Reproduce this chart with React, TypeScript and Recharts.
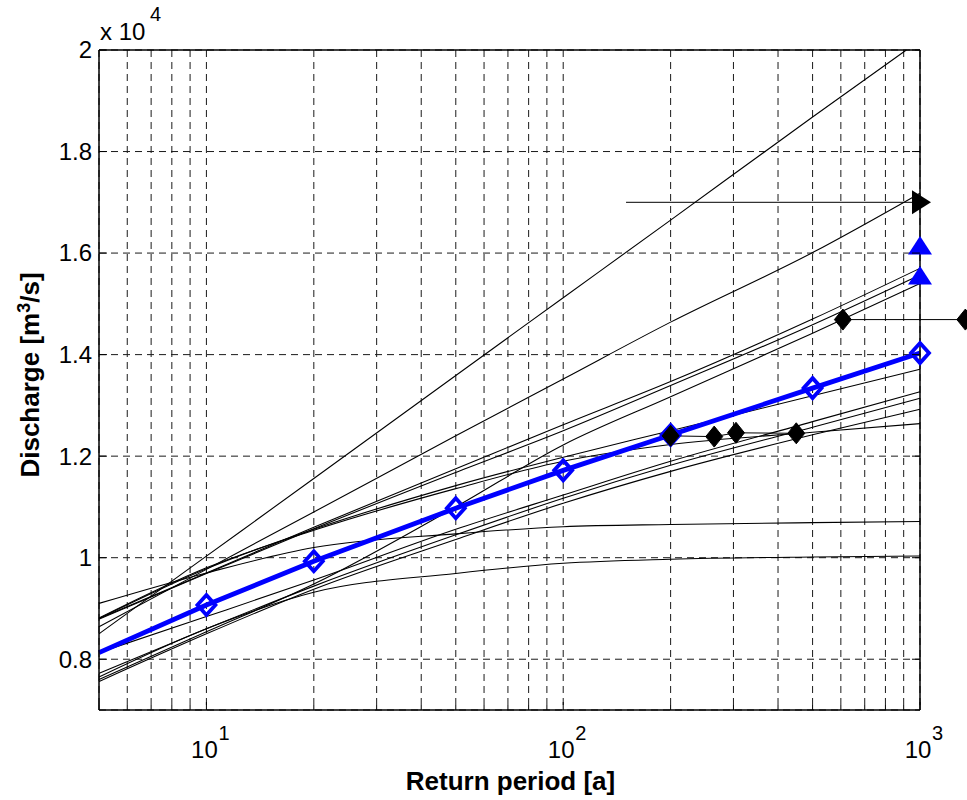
import { ComposedChart, Line, XAxis, YAxis, CartesianGrid } from 'recharts';

const WIDTH = 967;
const HEIGHT = 800;
const LEFT_W = 99;
const RIGHT_W = 47;
const TOP_H = 50;
const BOTTOM_H = 90;
const PLOT_W = WIDTH - LEFT_W - RIGHT_W;
const FONT = '"Liberation Sans", Arial, Helvetica, sans-serif';

const T = [5, 10, 20, 50, 100, 200, 500, 1000];
// the steepest fit leaves the axes at the top (2e4) before 1000 a
const T_STEEP = [5, 10, 20, 50, 100, 200, 500, 916];
const Q_STEEP = [8500, 10030, 11560, 13590, 15120, 16650, 18680, 20000];

// fitted distributions, discharge [m3/s]
const Q_FIT_B = [8640, 9770, 10900, 12400, 13520, 14640, 16010, 17180];
const Q_FIT_C1 = [8800, 9700, 10600, 11750, 12620, 13470, 14700, 15700];
const Q_FIT_C2 = [8790, 9690, 10570, 11680, 12500, 13390, 14590, 15570];
const Q_FIT_C3 = [7600, 8540, 9480, 11000, 12220, 13170, 14420, 15400];
const Q_FIT_D = [8800, 9780, 10560, 11420, 11980, 12500, 13190, 13710];
const Q_FIT_G = [8810, 9800, 10540, 11360, 11900, 12230, 12470, 12640];
const Q_FIT_E = [9100, 9700, 10200, 10470, 10610, 10655, 10690, 10713];
const Q_FIT_F = [7650, 8600, 9320, 9690, 9890, 9970, 10015, 10033];
const Q_FIT_H1 = [8130, 8840, 9560, 10560, 11235, 11900, 12680, 13270];
const Q_FIT_H2 = [7720, 8600, 9440, 10450, 11170, 11820, 12570, 13140];
const Q_FIT_H3 = [7560, 8500, 9380, 10360, 11072, 11700, 12420, 12923];

// ensemble (blue)
const Q_ENSEMBLE = [8130, 9068, 9930, 10975, 11720, 12417, 13340, 14030];

// historic estimates
const T_HIST = [200, 265, 305, 450];
const Q_HIST = [12400, 12385, 12460, 12450];

// ranges
const T_RANGE_UP = [150, 1000];
const Q_RANGE_UP = [17000, 17000];
const T_RANGE_MID = [608, 1340];
const Q_RANGE_MID = [14690, 14690];
const EXT_MAX = 1340;

// single estimates at 1000 a (blue triangles)
const T_TRI = [1000, 1000];
const Q_TRI = [16140, 15550];

const X_TICKS = [5, 6, 7, 8, 9, 10, 20, 30, 40, 50, 60, 70, 80, 90, 100, 200, 300, 400, 500, 600, 700, 800, 900, 1000];
const Y_TICKS = [8000, 10000, 12000, 14000, 16000, 18000, 20000];
const DECADES = [10, 100, 1000];

const pts = (ts: number[], qs: number[]) => ts.map((t, i) => ({ t, q: qs[i] }));

const FITS = [
  pts(T_STEEP, Q_STEEP),
  pts(T, Q_FIT_B),
  pts(T, Q_FIT_C1),
  pts(T, Q_FIT_C2),
  pts(T, Q_FIT_C3),
  pts(T, Q_FIT_D),
  pts(T, Q_FIT_G),
  pts(T, Q_FIT_E),
  pts(T, Q_FIT_F),
  pts(T, Q_FIT_H1),
  pts(T, Q_FIT_H2),
  pts(T, Q_FIT_H3),
];

// hidden axis for the range that runs past 1000 a, same log scale stretched to the right
const EXT_PAD = (PLOT_W * Math.log10(EXT_MAX / 1000)) / Math.log10(1000 / 5);

const BottomTick = (props: any) => {
  const { x, y, payload } = props;
  const v = payload.value;
  const major = DECADES.includes(v);
  return (
    <g>
      <line x1={x} x2={x} y1={y} y2={y - (major ? 8 : 5)} stroke="#000" />
      {major && (
        <text x={x - 2} y={y + 48} textAnchor="middle" fontSize={24} fontFamily={FONT} fill="#000">
          10
        </text>
      )}
      {major && (
        <text x={x + 12} y={y + 30} textAnchor="start" fontSize={20} fontFamily={FONT} fill="#000">
          {Math.round(Math.log10(v))}
        </text>
      )}
    </g>
  );
};

const TopTick = (props: any) => {
  const { x, y, payload } = props;
  const major = DECADES.includes(payload.value);
  return <line x1={x} x2={x} y1={y} y2={y + (major ? 8 : 5)} stroke="#000" />;
};

const LeftTick = (props: any) => {
  const { x, y, payload } = props;
  return (
    <g>
      <line x1={x} x2={x + 8} y1={y} y2={y} stroke="#000" />
      <text x={x - 7} y={y} dy="0.35em" textAnchor="end" fontSize={24} fontFamily={FONT} fill="#000">
        {String(payload.value / 10000)}
      </text>
    </g>
  );
};

const RightTick = (props: any) => {
  const { x, y } = props;
  return <line x1={x} x2={x - 8} y1={y} y2={y} stroke="#000" />;
};

const YTitle = (props: any) => {
  const vb = props.viewBox || { x: 0, y: TOP_H, width: LEFT_W, height: HEIGHT - TOP_H - BOTTOM_H };
  const cx = vb.x + 39;
  const cy = vb.y + vb.height / 2 - 5;
  return (
    <g>
      <text
        x={cx}
        y={cy}
        transform={`rotate(-90, ${cx}, ${cy})`}
        textAnchor="middle"
        fontSize={26}
        fontWeight="bold"
        fontFamily={FONT}
        fill="#000"
      >
        Discharge [m
        <tspan dy={-9} fontSize={18}>3</tspan>
        <tspan dy={9}>/s]</tspan>
      </text>
      <text x={vb.x + vb.width + 1} y={vb.y - 10} fontSize={24} fontFamily={FONT} fill="#000">
        x 10
      </text>
      <text x={vb.x + vb.width + 51} y={vb.y - 29} fontSize={20} fontFamily={FONT} fill="#000">
        4
      </text>
    </g>
  );
};

const XTitle = (props: any) => {
  const vb = props.viewBox || { x: LEFT_W, y: HEIGHT - BOTTOM_H, width: PLOT_W, height: BOTTOM_H };
  return (
    <text
      x={vb.x + vb.width / 2 + 1}
      y={vb.y + 80}
      textAnchor="middle"
      fontSize={26}
      fontWeight="bold"
      fontFamily={FONT}
      fill="#000"
    >
      Return period [a]
    </text>
  );
};

const diamondDot = (fill: string, stroke: string, rx: number, ry: number, sw: number, skipFirst = false) =>
  (props: any) => {
    const { cx, cy, index } = props;
    if (cx == null || cy == null || (skipFirst && index === 0)) return <g key={`dn-${index}`} />;
    return (
      <polygon
        key={`d-${index}`}
        points={`${cx},${cy - ry} ${cx + rx},${cy} ${cx},${cy + ry} ${cx - rx},${cy}`}
        fill={fill}
        stroke={stroke}
        strokeWidth={sw}
      />
    );
  };

const rightTriangleDot = (props: any) => {
  const { cx, cy, index } = props;
  if (cx == null || cy == null || index !== 1) return <g key={`rn-${index}`} />;
  return <polygon key={`r-${index}`} points={`${cx - 8},${cy - 12} ${cx + 11},${cy} ${cx - 8},${cy + 12}`} fill="#000" />;
};

const upTriangleDot = (props: any) => {
  const { cx, cy, index } = props;
  if (cx == null || cy == null) return <g key={`un-${index}`} />;
  return <polygon key={`u-${index}`} points={`${cx},${cy - 10} ${cx + 12},${cy + 8.5} ${cx - 12},${cy + 8.5}`} fill="#0000ff" />;
};

export default function App() {
  return (
    <div style={{ position: 'absolute', left: 0, top: 0, background: '#fff' }}>
      <ComposedChart width={WIDTH} height={HEIGHT} margin={{ top: 0, right: 0, bottom: 0, left: 0 }}>
        <CartesianGrid xAxisId="x" yAxisId="y" stroke="#1a1a1a" strokeDasharray="7 5" />
        <XAxis
          xAxisId="ext"
          dataKey="t"
          type="number"
          scale="log"
          domain={[5, EXT_MAX]}
          hide
          height={0}
          padding={{ left: 0, right: -EXT_PAD }}
        />
        <XAxis
          xAxisId="x"
          dataKey="t"
          type="number"
          scale="log"
          domain={[5, 1000]}
          ticks={X_TICKS}
          interval={0}
          height={BOTTOM_H}
          tickSize={0}
          tickMargin={0}
          tickLine={false}
          tick={BottomTick}
          axisLine={{ stroke: '#000', strokeWidth: 1.5 }}
          label={<XTitle />}
        />
        <XAxis
          xAxisId="top"
          orientation="top"
          type="number"
          scale="log"
          domain={[5, 1000]}
          allowDataOverflow
          ticks={X_TICKS}
          interval={0}
          height={TOP_H}
          tickSize={0}
          tickMargin={0}
          tickLine={false}
          tick={TopTick}
          axisLine={{ stroke: '#000', strokeWidth: 1.5 }}
        />
        <YAxis
          yAxisId="y"
          type="number"
          domain={[7000, 20000]}
          ticks={Y_TICKS}
          interval={0}
          width={LEFT_W}
          tickSize={0}
          tickMargin={0}
          tickLine={false}
          tick={LeftTick}
          axisLine={{ stroke: '#000', strokeWidth: 1.5 }}
          label={<YTitle />}
        />
        <YAxis
          yAxisId="right"
          orientation="right"
          type="number"
          domain={[7000, 20000]}
          allowDataOverflow
          ticks={Y_TICKS}
          interval={0}
          width={RIGHT_W}
          tickSize={0}
          tickMargin={0}
          tickLine={false}
          tick={RightTick}
          axisLine={{ stroke: '#000', strokeWidth: 1.5 }}
        />

        {FITS.map((d, i) => (
          <Line
            key={`fit-${i}`}
            xAxisId="x"
            yAxisId="y"
            data={d}
            dataKey="q"
            type="monotone"
            stroke="#000"
            strokeWidth={1.1}
            dot={false}
            activeDot={false}
            isAnimationActive={false}
          />
        ))}

        <Line
          xAxisId="x"
          yAxisId="y"
          data={pts(T_RANGE_UP, Q_RANGE_UP)}
          dataKey="q"
          type="linear"
          stroke="#000"
          strokeWidth={1}
          dot={rightTriangleDot}
          activeDot={false}
          isAnimationActive={false}
        />

        <Line
          xAxisId="x"
          yAxisId="y"
          data={pts(T, Q_ENSEMBLE)}
          dataKey="q"
          type="linear"
          stroke="#0000ff"
          strokeWidth={4.8}
          dot={diamondDot('none', '#0000ff', 9, 10, 3.8, true)}
          activeDot={false}
          isAnimationActive={false}
        />

        <Line
          xAxisId="x"
          yAxisId="y"
          data={pts(T_TRI, Q_TRI)}
          dataKey="q"
          stroke="none"
          dot={upTriangleDot}
          activeDot={false}
          isAnimationActive={false}
        />

        <Line
          xAxisId="x"
          yAxisId="y"
          data={pts(T_HIST, Q_HIST)}
          dataKey="q"
          type="linear"
          stroke="#000"
          strokeWidth={1}
          dot={diamondDot('#000', '#000', 8.5, 10.5, 1)}
          activeDot={false}
          isAnimationActive={false}
        />

        <Line
          xAxisId="ext"
          yAxisId="y"
          data={pts(T_RANGE_MID, Q_RANGE_MID)}
          dataKey="q"
          type="linear"
          stroke="#000"
          strokeWidth={1}
          dot={diamondDot('#000', '#000', 8.5, 10.5, 1)}
          activeDot={false}
          isAnimationActive={false}
        />
      </ComposedChart>
    </div>
  );
}
